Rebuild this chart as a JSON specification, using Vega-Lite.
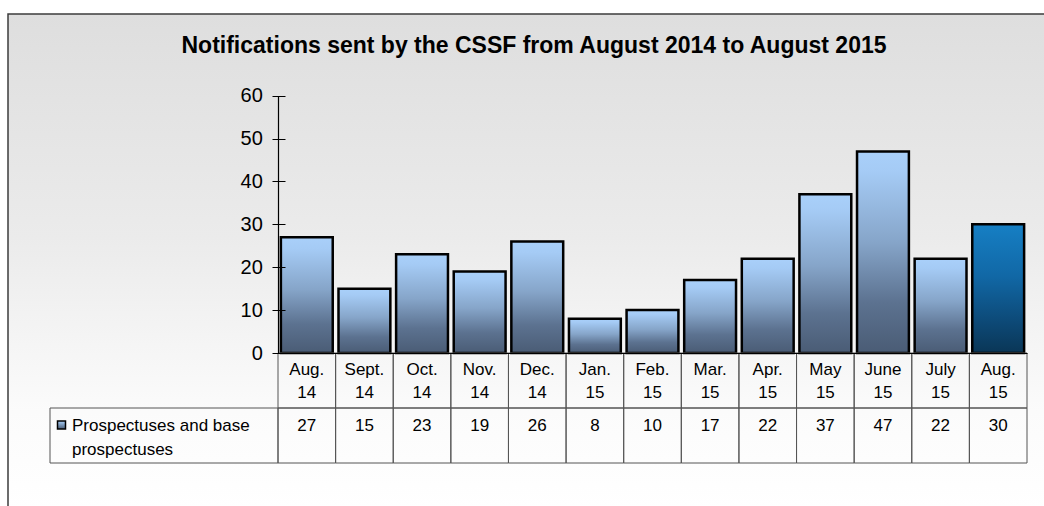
{
  "$schema": "https://vega.github.io/schema/vega-lite/v6.json",
  "width": 1040,
  "height": 496,
  "autosize": {"type": "none"},
  "padding": {"left": 8, "top": 14, "right": -4, "bottom": -4},
  "background": "white",
  "config": {"view": {"stroke": null}, "font": "Liberation Sans"},
  "title": {
    "text": "Notifications sent by the CSSF from August 2014 to August 2015",
    "font": "Liberation Sans",
    "fontSize": 23,
    "fontWeight": "bold",
    "color": "#000000",
    "anchor": "middle",
    "frame": "group",
    "offset": -45,
    "dx": 6
  },
  "datasets": {
    "m": [
      {"month": "Aug. 14", "lab": "Aug.\n14", "value": 27, "hl": false},
      {"month": "Sept. 14", "lab": "Sept.\n14", "value": 15, "hl": false},
      {"month": "Oct. 14", "lab": "Oct.\n14", "value": 23, "hl": false},
      {"month": "Nov. 14", "lab": "Nov.\n14", "value": 19, "hl": false},
      {"month": "Dec. 14", "lab": "Dec.\n14", "value": 26, "hl": false},
      {"month": "Jan. 15", "lab": "Jan.\n15", "value": 8, "hl": false},
      {"month": "Feb. 15", "lab": "Feb.\n15", "value": 10, "hl": false},
      {"month": "Mar. 15", "lab": "Mar.\n15", "value": 17, "hl": false},
      {"month": "Apr. 15", "lab": "Apr.\n15", "value": 22, "hl": false},
      {"month": "May 15", "lab": "May\n15", "value": 37, "hl": false},
      {"month": "June 15", "lab": "June\n15", "value": 47, "hl": false},
      {"month": "July 15", "lab": "July\n15", "value": 22, "hl": false},
      {"month": "Aug. 15", "lab": "Aug.\n15", "value": 30, "hl": true}
    ]
  },
  "resolve": {"scale": {"x": "independent", "y": "independent"}, "axis": {"x": "independent", "y": "independent"}},
  "layer": [
    {
      "data": {"values": [{}]},
      "mark": {
        "type": "rect",
        "fill": {"gradient": "linear", "x1": 0, "y1": 0, "x2": 0, "y2": 1,
          "stops": [{"offset": 0, "color": "#dedede"}, {"offset": 0.45, "color": "#ebebeb"}, {"offset": 0.8, "color": "#fbfbfb"}, {"offset": 1, "color": "#ffffff"}]},
        "stroke": "#3c3c3c",
        "strokeWidth": 1.5
      },
      "encoding": {}
    },
    {
      "data": {"values": [{}]},
      "mark": {"type": "rule", "opacity": 0},
      "encoding": {
        "y": {"datum": 0, "type": "quantitative",
          "scale": {"domain": [0, 60], "range": [339, 81.7], "nice": false, "zero": true},
          "axis": {"orient": "left", "offset": -270, "zindex": 2, "domain": true, "domainColor": "#000000", "domainWidth": 1.2, "ticks": false, "labels": false, "grid": false, "title": null}},
        "y2": {"datum": 60}
      }
    },
    {
      "data": {"name": "m"},
      "mark": {"type": "bar", "stroke": "#000000", "strokeWidth": 2.5},
      "encoding": {
        "x": {"field": "month", "type": "nominal",
          "scale": {"domain": ["Aug. 14", "Sept. 14", "Oct. 14", "Nov. 14", "Dec. 14", "Jan. 15", "Feb. 15", "Mar. 15", "Apr. 15", "May 15", "June 15", "July 15", "Aug. 15"],
            "range": [270, 1019], "paddingInner": 0.1, "paddingOuter": 0.05},
          "axis": {"orient": "bottom", "offset": -157, "zindex": 2, "domain": true, "domainColor": "#000000", "domainWidth": 1.2, "ticks": false, "labels": false, "grid": false, "title": null}},
        "y": {"field": "value", "type": "quantitative",
          "scale": {"domain": [0, 60], "range": [339, 81.7], "nice": false, "zero": true},
          "axis": {"orient": "left", "offset": -277, "zindex": 2, "domain": false, "tickSize": 13, "tickColor": "#000000", "tickWidth": 1, "values": [0, 10, 20, 30, 40, 50, 60], "labelFontSize": 20, "labelColor": "#000000", "labelFont": "Liberation Sans", "labelPadding": 9.7, "grid": false, "title": null}},
        "fill": {
          "condition": {"test": "datum.hl",
            "value": {"gradient": "linear", "x1": 0, "y1": 0, "x2": 0, "y2": 1,
              "stops": [{"offset": 0, "color": "#167fc4"}, {"offset": 0.4, "color": "#1168a6"}, {"offset": 0.75, "color": "#0d4a78"}, {"offset": 1, "color": "#0a3656"}]}},
          "value": {"gradient": "linear", "x1": 0, "y1": 0, "x2": 0, "y2": 1,
            "stops": [{"offset": 0, "color": "#a9d0fa"}, {"offset": 0.1, "color": "#a5cbf5"}, {"offset": 0.45, "color": "#86a5c9"}, {"offset": 0.75, "color": "#5c7290"}, {"offset": 1, "color": "#4a5c75"}]}
        }
      }
    },
    {
      "data": {"name": "m"},
      "layer": [
        {
          "mark": {"type": "rect", "fill": "transparent", "stroke": "#555555", "strokeWidth": 1},
          "encoding": {
            "x": {"field": "month", "type": "nominal", "scale": {"domain": ["Aug. 14", "Sept. 14", "Oct. 14", "Nov. 14", "Dec. 14", "Jan. 15", "Feb. 15", "Mar. 15", "Apr. 15", "May 15", "June 15", "July 15", "Aug. 15"], "range": [270, 1019], "paddingInner": 0, "paddingOuter": 0}, "axis": null},
            "y": {"datum": "cat", "type": "nominal", "scale": {"domain": ["cat", "val"], "range": [339, 449], "paddingInner": 0, "paddingOuter": 0}, "axis": null}
          }
        },
        {
          "mark": {"type": "rect", "fill": "transparent", "stroke": "#555555", "strokeWidth": 1},
          "encoding": {
            "x": {"field": "month", "type": "nominal"},
            "y": {"datum": "val", "type": "nominal"}
          }
        },
        {
          "mark": {"type": "text", "lineBreak": "\n", "baseline": "alphabetic", "dy": 22, "fontSize": 17, "lineHeight": 23.3, "color": "#000000", "font": "Liberation Sans"},
          "encoding": {
            "x": {"field": "month", "type": "nominal"},
            "y": {"datum": "cat", "type": "nominal", "bandPosition": 0},
            "text": {"field": "lab"}
          }
        },
        {
          "mark": {"type": "text", "baseline": "alphabetic", "dy": 22.7, "fontSize": 17, "color": "#000000", "font": "Liberation Sans"},
          "encoding": {
            "x": {"field": "month", "type": "nominal"},
            "y": {"datum": "val", "type": "nominal", "bandPosition": 0},
            "text": {"field": "value", "type": "quantitative"}
          }
        }
      ]
    },
    {
      "data": {"values": [{"name": "Prospectuses and base\nprospectuses"}]},
      "layer": [
        {
          "mark": {"type": "rect", "fill": "transparent", "stroke": "#555555", "strokeWidth": 1},
          "encoding": {
            "x": {"datum": "legend", "type": "nominal", "scale": {"domain": ["legend"], "range": [42, 270], "paddingInner": 0, "paddingOuter": 0}, "axis": null},
            "y": {"datum": "val", "type": "nominal", "scale": {"domain": ["cat", "val"], "range": [339, 449], "paddingInner": 0, "paddingOuter": 0}, "axis": null}
          }
        },
        {
          "mark": {"type": "point", "shape": "square", "size": 64, "filled": true, "opacity": 1,
            "fill": {"gradient": "linear", "x1": 0, "y1": 0, "x2": 0, "y2": 1, "stops": [{"offset": 0, "color": "#a9d0fa"}, {"offset": 1, "color": "#4a5c75"}]},
            "stroke": "#000000", "strokeWidth": 1.5, "xOffset": 11.5, "yOffset": 17},
          "encoding": {
            "x": {"datum": "legend", "type": "nominal", "bandPosition": 0},
            "y": {"datum": "val", "type": "nominal", "bandPosition": 0}
          }
        },
        {
          "mark": {"type": "text", "align": "left", "baseline": "alphabetic", "dx": 22, "dy": 22.7, "lineBreak": "\n", "lineHeight": 24, "fontSize": 17, "color": "#000000", "font": "Liberation Sans"},
          "encoding": {
            "x": {"datum": "legend", "type": "nominal", "bandPosition": 0},
            "y": {"datum": "val", "type": "nominal", "bandPosition": 0},
            "text": {"field": "name"}
          }
        }
      ]
    }
  ]
}
